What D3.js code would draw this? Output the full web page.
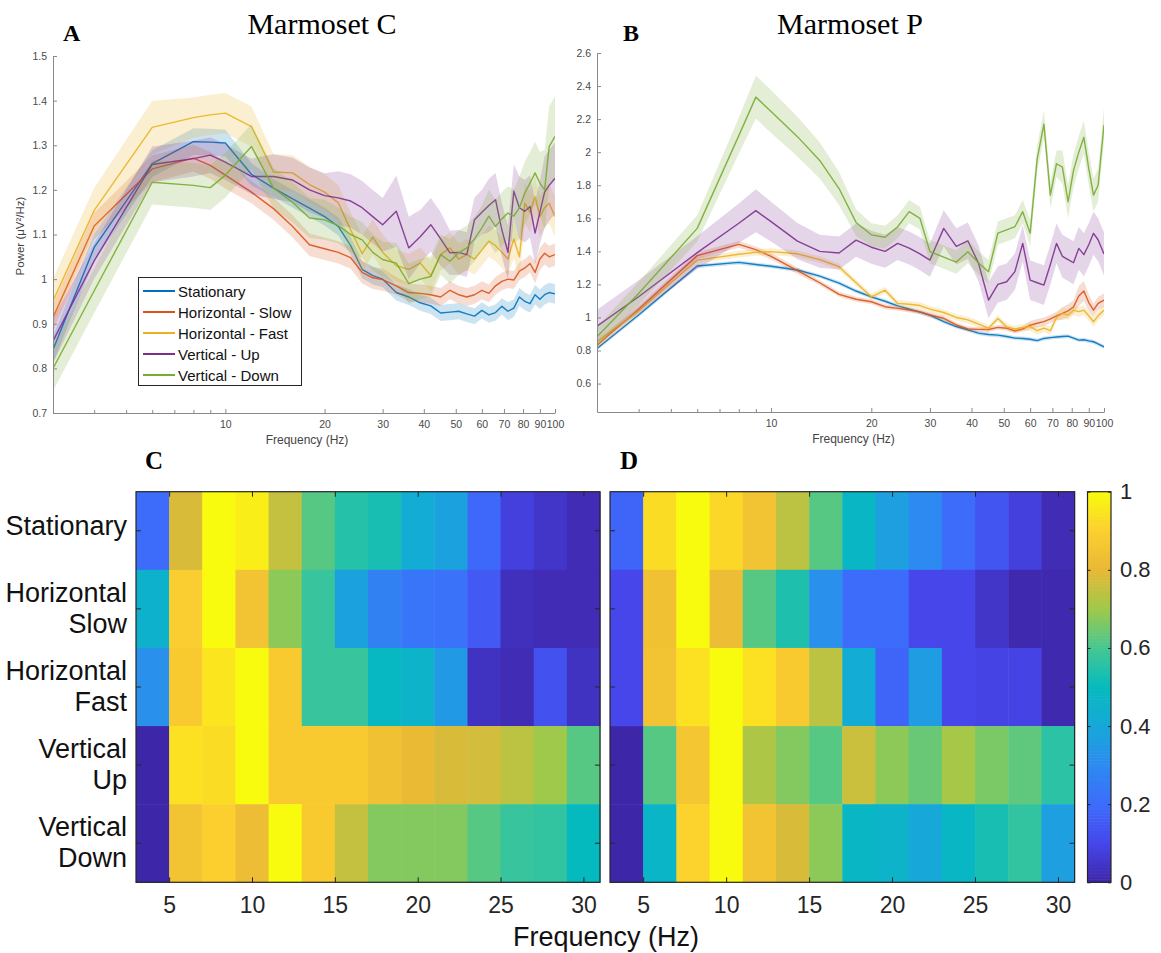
<!DOCTYPE html>
<html><head><meta charset="utf-8">
<script src="https://cdn.jsdelivr.net/npm/d3@7"></script>
<style>body{margin:0;background:#fff;} svg{display:block;}</style>
</head><body>
<svg id="chart" width="1161" height="953"></svg>
<script>
// ---------- DATA ----------
const freqs = [3,4,6,8,9,10,12,14,16,18,20,22,24,26,28,30,33,36,39,42,45,48,51,54,57,60,63,66,69,72,75,78,81,84,87,90,93,96,100];
const seriesNames = ["Stationary","Horizontal - Slow","Horizontal - Fast","Vertical - Up","Vertical - Down"];
const seriesColors = ["#0072BD","#D95319","#EDB120","#7E2F8E","#77AC30"];

// Marmoset C (panel A)
const statC = [0.842,1.071,1.259,1.308,1.307,1.305,1.235,1.204,1.180,1.159,1.140,1.118,1.075,1.022,1.008,1.000,0.970,0.960,0.947,0.940,0.924,0.926,0.928,0.922,0.917,0.930,0.920,0.925,0.939,0.928,0.935,0.960,0.950,0.945,0.965,0.955,0.965,0.970,0.967];
const slowC = [0.914,1.119,1.247,1.271,1.255,1.233,1.195,1.158,1.118,1.077,1.068,1.060,1.048,1.015,1.003,0.999,0.985,0.970,0.968,0.965,0.960,0.975,0.965,0.960,0.965,0.975,0.968,0.985,0.995,1.000,0.998,1.018,1.025,1.035,1.015,1.045,1.058,1.050,1.055];
const fastC = [0.951,1.154,1.340,1.362,1.368,1.372,1.342,1.240,1.238,1.212,1.195,1.171,1.110,1.057,1.094,1.060,1.030,1.022,1.036,1.008,1.055,1.070,1.045,1.055,1.045,1.065,1.085,1.075,1.060,1.045,1.090,1.050,1.170,1.150,1.185,1.140,1.160,1.170,1.140];
const upC   = [0.861,1.041,1.257,1.270,1.278,1.262,1.230,1.230,1.222,1.200,1.187,1.182,1.175,1.160,1.140,1.122,1.152,1.070,1.095,1.122,1.090,1.059,1.060,1.055,1.133,1.150,1.165,1.178,1.110,1.060,1.197,1.160,1.152,1.163,1.103,1.150,1.195,1.210,1.226];
const downC = [0.800,0.974,1.217,1.210,1.205,1.233,1.297,1.204,1.172,1.137,1.133,1.120,1.100,1.088,1.060,1.044,1.036,0.990,1.000,1.006,1.055,1.040,1.059,1.070,1.090,1.115,1.141,1.118,1.135,1.148,1.141,1.160,1.193,1.215,1.238,1.215,1.200,1.297,1.320];
const errStatC = [0.03,0.03,0.03,0.03,0.03,0.03,0.025,0.02,0.02,0.02,0.02,0.02,0.02,0.02,0.02,0.018,0.018,0.018,0.018,0.018,0.018,0.018,0.018,0.018,0.018,0.018,0.018,0.018,0.018,0.02,0.02,0.02,0.02,0.02,0.022,0.022,0.022,0.022,0.022];
const errSlowC = [0.03,0.03,0.03,0.03,0.03,0.03,0.025,0.025,0.025,0.025,0.025,0.025,0.025,0.025,0.025,0.025,0.02,0.02,0.02,0.02,0.02,0.02,0.02,0.02,0.02,0.02,0.02,0.02,0.02,0.02,0.02,0.02,0.02,0.02,0.025,0.025,0.025,0.025,0.025];
const errFastC = [0.05,0.05,0.06,0.045,0.045,0.045,0.045,0.04,0.04,0.04,0.04,0.04,0.04,0.04,0.04,0.04,0.035,0.035,0.035,0.035,0.035,0.035,0.035,0.035,0.035,0.035,0.035,0.035,0.035,0.035,0.045,0.045,0.045,0.045,0.045,0.045,0.045,0.045,0.045];
const errUpC   = [0.05,0.04,0.04,0.04,0.04,0.04,0.04,0.05,0.05,0.05,0.05,0.06,0.06,0.06,0.06,0.06,0.08,0.07,0.06,0.06,0.06,0.05,0.05,0.05,0.05,0.05,0.06,0.06,0.06,0.06,0.06,0.07,0.07,0.07,0.07,0.07,0.08,0.08,0.08];
const errDownC = [0.05,0.05,0.05,0.05,0.05,0.05,0.05,0.045,0.045,0.045,0.045,0.04,0.04,0.04,0.04,0.04,0.045,0.045,0.045,0.045,0.045,0.05,0.05,0.05,0.05,0.05,0.06,0.06,0.06,0.06,0.06,0.07,0.07,0.07,0.07,0.07,0.09,0.09,0.09];

// Marmoset P (panel B)
const statP = [0.812,1.015,1.311,1.333,1.320,1.310,1.287,1.250,1.208,1.160,1.125,1.098,1.070,1.050,1.032,1.014,0.975,0.945,0.925,0.905,0.897,0.893,0.885,0.875,0.873,0.868,0.860,0.873,0.878,0.882,0.885,0.887,0.875,0.863,0.865,0.858,0.853,0.840,0.822];
const slowP = [0.832,1.050,1.374,1.442,1.410,1.370,1.283,1.210,1.140,1.110,1.095,1.065,1.055,1.045,1.034,1.015,0.995,0.955,0.930,0.928,0.927,0.940,0.935,0.918,0.930,0.953,0.965,0.975,0.992,1.010,1.024,1.040,1.064,1.130,1.160,1.090,1.044,1.085,1.105];
const fastP = [0.853,1.040,1.347,1.382,1.394,1.398,1.385,1.350,1.307,1.210,1.125,1.165,1.085,1.080,1.072,1.050,1.030,1.000,0.985,0.960,0.935,0.994,0.943,0.930,0.940,0.945,0.920,0.935,0.920,1.000,1.024,1.015,1.044,1.035,1.044,1.010,0.974,1.010,1.044];
const upP   = [0.947,1.125,1.392,1.570,1.646,1.580,1.462,1.400,1.390,1.468,1.425,1.400,1.448,1.420,1.385,1.347,1.539,1.430,1.464,1.327,1.105,1.200,1.216,1.277,1.448,1.226,1.210,1.196,1.320,1.448,1.370,1.350,1.331,1.418,1.380,1.440,1.509,1.470,1.384];
const downP = [0.883,1.145,1.539,2.100,2.333,2.246,2.094,1.950,1.780,1.575,1.500,1.485,1.549,1.640,1.600,1.398,1.365,1.335,1.398,1.330,1.277,1.510,1.530,1.549,1.640,1.509,1.960,2.170,1.740,1.930,1.910,1.700,1.890,2.000,2.090,1.900,1.740,1.800,2.166];
const errStatP = [0.012,0.012,0.012,0.012,0.012,0.012,0.012,0.012,0.012,0.012,0.012,0.012,0.012,0.012,0.012,0.012,0.012,0.012,0.012,0.012,0.012,0.012,0.012,0.012,0.012,0.012,0.012,0.012,0.012,0.012,0.012,0.012,0.012,0.012,0.012,0.012,0.012,0.012,0.012];
const errSlowP = [0.02,0.02,0.02,0.02,0.02,0.02,0.02,0.015,0.015,0.015,0.015,0.015,0.015,0.015,0.015,0.015,0.015,0.015,0.015,0.015,0.015,0.015,0.015,0.015,0.015,0.025,0.025,0.025,0.025,0.025,0.04,0.04,0.04,0.06,0.06,0.05,0.04,0.04,0.04];
const errFastP = [0.02,0.02,0.02,0.02,0.02,0.02,0.02,0.02,0.02,0.02,0.02,0.02,0.02,0.02,0.02,0.02,0.02,0.02,0.02,0.02,0.02,0.02,0.02,0.02,0.02,0.025,0.025,0.025,0.025,0.025,0.03,0.03,0.03,0.03,0.03,0.03,0.03,0.03,0.03];
const errUpP   = [0.1,0.1,0.1,0.12,0.13,0.12,0.11,0.1,0.1,0.1,0.1,0.1,0.1,0.1,0.1,0.1,0.11,0.11,0.11,0.11,0.11,0.11,0.11,0.11,0.11,0.12,0.12,0.12,0.12,0.12,0.13,0.13,0.13,0.13,0.13,0.13,0.13,0.13,0.13];
const errDownP = [0.06,0.07,0.08,0.11,0.13,0.13,0.12,0.11,0.1,0.08,0.07,0.07,0.07,0.07,0.07,0.07,0.07,0.07,0.07,0.07,0.07,0.07,0.07,0.07,0.07,0.08,0.08,0.08,0.08,0.08,0.1,0.1,0.1,0.1,0.1,0.1,0.1,0.1,0.1];

// Axis ticks
const yTicksA = [0.7,0.8,0.9,1.0,1.1,1.2,1.3,1.4,1.5];
const yTicksB = [0.6,0.8,1.0,1.2,1.4,1.6,1.8,2.0,2.2,2.4,2.6];
const xTicksMajor = [10,20,30,40,50,60,70,80,90,100];
const xTicksMinor = [4,5,6,7,8,9];

// Heatmaps (normalised power)
const heatFreqs = [4,6,8,10,12,14,16,18,20,22,24,26,28,30];
const heatTicks = [5,10,15,20,25,30];
const conditions = ["Stationary","Horizontal Slow","Horizontal Fast","Vertical Up","Vertical Down"];
const conditionLines = [["Stationary"],["Horizontal","Slow"],["Horizontal","Fast"],["Vertical","Up"],["Vertical","Down"]];
const heatStatC = [0.20,0.78,1.00,0.97,0.75,0.62,0.55,0.53,0.42,0.38,0.19,0.08,0.05,0.02];
const heatSlowC = [0.45,0.89,1.00,0.85,0.68,0.58,0.38,0.27,0.23,0.22,0.15,0.03,0.02,0.02];
const heatFastC = [0.32,0.88,0.95,1.00,0.88,0.58,0.58,0.49,0.46,0.35,0.04,0.02,0.13,0.04];
const heatUpC   = [0.00,0.94,0.93,1.00,0.88,0.88,0.88,0.84,0.81,0.78,0.77,0.74,0.70,0.62];
const heatDownC = [0.00,0.85,0.90,0.82,1.00,0.88,0.75,0.67,0.67,0.67,0.62,0.58,0.57,0.50];
const heatStatD = [0.18,0.93,1.00,0.92,0.85,0.74,0.62,0.48,0.37,0.30,0.20,0.14,0.08,0.02];
const heatSlowD = [0.10,0.84,1.00,0.82,0.62,0.54,0.32,0.20,0.20,0.10,0.10,0.05,0.01,0.01];
const heatFastD = [0.10,0.85,0.94,1.00,0.94,0.88,0.74,0.42,0.18,0.36,0.10,0.09,0.09,0.01];
const heatUpD   = [0.00,0.62,0.86,1.00,0.72,0.67,0.62,0.76,0.68,0.64,0.71,0.66,0.63,0.56];
const heatDownD = [0.00,0.47,0.91,1.00,0.85,0.78,0.68,0.48,0.46,0.40,0.48,0.53,0.57,0.37];
const cbarTicks = [0,0.2,0.4,0.6,0.8,1];
const parulaStops = ["#3E26A8","#4646EA","#3D6CFB","#2D8AF0","#17A8D9","#05BABF","#45C793","#9FC94A","#E8B836","#FCCF2F","#F9FB0E"];

// ---------- DRAW ----------
const svg = d3.select("#chart");
svg.append("rect").attr("width",1161).attr("height",953).attr("fill","#fff");
const SANS = "'Liberation Sans', Arial, sans-serif";
const SERIF = "'Liberation Serif', 'Times New Roman', serif";
const fmt = d => String(+d.toFixed(1));

function linePanel(p, idx) {
  const x = d3.scaleLog().domain([3,100]).range([p.x0,p.x1]);
  const y = d3.scaleLinear().domain(p.yDomain).range([p.y1,p.y0]);
  const clipId = "clip"+idx;
  svg.append("clipPath").attr("id",clipId).append("rect")
    .attr("x",p.x0).attr("y",p.y0).attr("width",p.x1-p.x0).attr("height",p.y1-p.y0);
  const g = svg.append("g").attr("clip-path","url(#"+clipId+")");
  p.values.forEach((vals,i) => {
    const pts = freqs.map((f,j)=>({f, v: vals[j], e: p.errs[i][j]}));
    g.append("path").datum(pts)
      .attr("d", d3.area().x(d=>x(d.f)).y0(d=>y(d.v-d.e)).y1(d=>y(d.v+d.e)))
      .attr("fill", seriesColors[i]).attr("fill-opacity",0.2).attr("stroke","none");
    g.append("path").datum(pts)
      .attr("d", d3.line().x(d=>x(d.f)).y(d=>y(d.v)))
      .attr("fill","none").attr("stroke", seriesColors[i]).attr("stroke-width",1.4)
      .attr("stroke-linejoin","round").attr("stroke-opacity",0.9);
  });
  // axes
  const ax = svg.append("g").attr("transform",`translate(${p.x0},0)`)
    .call(d3.axisLeft(y).tickValues(p.yTicks).tickSize(-4).tickSizeOuter(0).tickPadding(6).tickFormat(fmt));
  const bx = svg.append("g").attr("transform",`translate(0,${p.y1})`)
    .call(d3.axisBottom(x).tickValues(xTicksMajor).tickSize(-4).tickSizeOuter(0).tickPadding(8).tickFormat(d3.format("d")));
  svg.append("g").attr("transform",`translate(0,${p.y1})`)
    .call(d3.axisBottom(x).tickValues(xTicksMinor).tickSize(-3).tickSizeOuter(0).tickFormat(""))
    .select(".domain").remove();
  svg.selectAll("g.tick text").filter(function(){return !this.__styled;}).each(function(){this.__styled=true;});
  [ax,bx].forEach(a=>{
    a.attr("font-family",SANS).attr("font-size",10.5);
    a.selectAll("text").attr("fill","#4a4a4a");
  });
  svg.selectAll(".domain, .tick line").attr("stroke","#8a8a8a");
  svg.append("text").attr("x",(p.x0+p.x1)/2+3).attr("y",p.y1+31)
    .attr("text-anchor","middle").attr("font-family",SANS).attr("font-size",12)
    .attr("fill","#444").text("Frequency (Hz)");
  svg.append("text").attr("x",p.titleX).attr("y",34).attr("text-anchor","middle")
    .attr("font-family",SERIF).attr("font-size",30).attr("fill","#000").text(p.title);
  svg.append("text").attr("x",p.letterX).attr("y",41).attr("font-family",SERIF)
    .attr("font-weight","bold").attr("font-size",24).attr("fill","#000").text(p.letter);
}

linePanel({x0:53,x1:555,y0:56,y1:413,yDomain:[0.7,1.5],yTicks:yTicksA,
  values:[statC,slowC,fastC,upC,downC],errs:[errStatC,errSlowC,errFastC,errUpC,errDownC],
  title:"Marmoset C",titleX:322,letter:"A",letterX:63},0);
linePanel({x0:597,x1:1104,y0:53,y1:412,yDomain:[0.428,2.6],yTicks:yTicksB,
  values:[statP,slowP,fastP,upP,downP],errs:[errStatP,errSlowP,errFastP,errUpP,errDownP],
  title:"Marmoset P",titleX:850,letter:"B",letterX:623},1);

// y label of panel A
svg.append("text").attr("transform","translate(24,236) rotate(-90)")
  .attr("text-anchor","middle").attr("font-family",SANS).attr("font-size",11.5)
  .attr("fill","#444").text("Power (\u03BCV\u00B2/Hz)");

// legend
const leg = svg.append("g");
leg.append("rect").attr("x",138.5).attr("y",277.5).attr("width",163).attr("height",108)
  .attr("fill","#fff").attr("stroke","#262626").attr("stroke-width",1);
seriesNames.forEach((n,i)=>{
  const yy = 291 + 21*i;
  leg.append("line").attr("x1",143).attr("x2",175).attr("y1",yy).attr("y2",yy)
    .attr("stroke",seriesColors[i]).attr("stroke-width",2);
  leg.append("text").attr("x",178).attr("y",yy).attr("dominant-baseline","central")
    .attr("font-family",SANS).attr("font-size",15).attr("fill","#111").text(n);
});

// ---------- HEATMAPS ----------
const parula = d3.scaleLinear().domain(parulaStops.map((c,i)=>i/(parulaStops.length-1)))
  .range(parulaStops).interpolate(d3.interpolateRgb).clamp(true);
const hy0 = 491.7, hy1 = 882.3;
const yRow = d3.scaleBand().domain(conditions).range([hy0,hy1]).padding(0);

function heatPanel(h) {
  const x = d3.scaleLinear().domain([3,31]).range([h.x0,h.x1]);
  const g = svg.append("g");
  h.rows.forEach((row,r)=>{
    row.forEach((v,c)=>{
      const f = heatFreqs[c];
      g.append("rect").attr("x",x(f-1)).attr("y",yRow(conditions[r]))
        .attr("width",x(f+1)-x(f-1)+0.5).attr("height",yRow.bandwidth()+0.5)
        .attr("fill",parula(v));
    });
  });
  const axB = svg.append("g").attr("transform",`translate(0,${hy1})`)
    .call(d3.axisBottom(x).tickValues(heatTicks).tickSize(-5).tickSizeOuter(0).tickPadding(14).tickFormat(d3.format("d")));
  axB.attr("font-family",SANS).attr("font-size",23);
  axB.selectAll("text").attr("fill","#262626");
  axB.select(".domain").remove();
  const axT = svg.append("g").attr("transform",`translate(0,${hy0})`)
    .call(d3.axisTop(x).tickValues(heatTicks).tickSize(-5).tickSizeOuter(0).tickFormat(""));
  axT.select(".domain").remove();
  const axL = svg.append("g").attr("transform",`translate(${h.x0},0)`)
    .call(d3.axisLeft(yRow).tickSize(-5).tickSizeOuter(0).tickFormat(""));
  axL.select(".domain").remove();
  const axR = svg.append("g").attr("transform",`translate(${h.x1},0)`)
    .call(d3.axisRight(yRow).tickSize(-5).tickSizeOuter(0).tickFormat(""));
  axR.select(".domain").remove();
  [axB,axT,axL,axR].forEach(a=>a.selectAll(".tick line").attr("stroke","#262626"));
  svg.append("rect").attr("x",h.x0).attr("y",hy0).attr("width",h.x1-h.x0).attr("height",hy1-hy0)
    .attr("fill","none").attr("stroke","#262626").attr("stroke-width",1.2);
  svg.append("text").attr("x",h.letterX).attr("y",469).attr("font-family",SERIF)
    .attr("font-weight","bold").attr("font-size",25).attr("fill","#000").text(h.letter);
  if (h.labels) {
    conditions.forEach((c,r)=>{
      const cy = yRow(c)+yRow.bandwidth()/2;
      const lines = conditionLines[r];
      const offs = lines.length===1 ? [-5] : [-16,15];
      lines.forEach((t,k)=>{
        svg.append("text").attr("x",127).attr("y",cy+offs[k]).attr("dominant-baseline","central")
          .attr("text-anchor","end").attr("font-family",SANS).attr("font-size",27)
          .attr("fill","#111").text(t);
      });
    });
  }
}
heatPanel({x0:136,x1:600,rows:[heatStatC,heatSlowC,heatFastC,heatUpC,heatDownC],letter:"C",letterX:145,labels:true});
heatPanel({x0:610,x1:1074.6,rows:[heatStatD,heatSlowD,heatFastD,heatUpD,heatDownD],letter:"D",letterX:620,labels:false});

// colorbar
const cbX0 = 1087.5, cbX1 = 1111;
const cbY = d3.scaleLinear().domain([0,1]).range([hy1,hy0]);
const cbSteps = d3.range(0,1,1/128);
svg.append("g").selectAll("rect").data(cbSteps).join("rect")
  .attr("x",cbX0).attr("width",cbX1-cbX0)
  .attr("y",d=>cbY(d+1/128)).attr("height",d=>cbY(d)-cbY(d+1/128)+0.6)
  .attr("fill",d=>parula(d+0.5/128));
const cbR = svg.append("g").attr("transform",`translate(${cbX1},0)`)
  .call(d3.axisRight(cbY).tickValues(cbarTicks).tickSize(-3).tickSizeOuter(0).tickPadding(9).tickFormat(fmt));
cbR.attr("font-family",SANS).attr("font-size",22);
cbR.selectAll("text").attr("fill","#262626");
cbR.select(".domain").remove();
cbR.selectAll(".tick line").attr("stroke","#262626");
const cbL = svg.append("g").attr("transform",`translate(${cbX0},0)`)
  .call(d3.axisLeft(cbY).tickValues(cbarTicks).tickSize(-3).tickSizeOuter(0).tickFormat(""));
cbL.select(".domain").remove();
cbL.selectAll(".tick line").attr("stroke","#262626");
svg.append("rect").attr("x",cbX0).attr("y",hy0).attr("width",cbX1-cbX0).attr("height",hy1-hy0)
  .attr("fill","none").attr("stroke","#262626").attr("stroke-width",1.2);

// shared x label
svg.append("text").attr("x",606).attr("y",946).attr("text-anchor","middle")
  .attr("font-family",SANS).attr("font-size",27).attr("fill","#111").text("Frequency (Hz)");
</script>
</body></html>
